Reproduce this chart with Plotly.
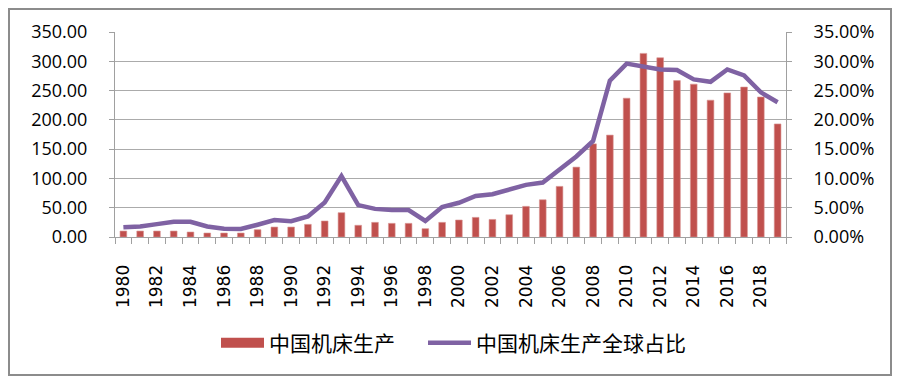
import plotly.graph_objects as go

years = list(range(1980, 2020))
production = [10.2, 10.2, 10.2, 10.2, 8.5, 6.8, 6.8, 6.8, 12.5, 17.0,
              17.0, 21.6, 27.3, 41.5, 20.0, 25.0, 23.3, 23.3, 14.2, 25.0,
              29.0, 33.5, 30.0, 38.0, 52.3, 63.6, 86.4, 119.3, 159.0, 174.0,
              237.0, 313.5, 306.0, 267.0, 261.0, 233.6, 246.0, 256.0, 239.0, 193.0]
share = [0.0165, 0.018, 0.022, 0.026, 0.026, 0.018, 0.014, 0.0136, 0.021, 0.029,
         0.027, 0.035, 0.059, 0.104, 0.0545, 0.048, 0.046, 0.046, 0.0275, 0.051,
         0.0585, 0.070, 0.073, 0.081, 0.089, 0.093, 0.116, 0.1375, 0.164, 0.267,
         0.296, 0.291, 0.286, 0.285, 0.269, 0.265, 0.286, 0.276, 0.247, 0.230]
year_ticks = list(range(1980, 2019, 2))
bar_name = "中国机床生产"
line_name = "中国机床生产全球占比"

BAR_COLOR = "#C0504D"
LINE_COLOR = "#7F62A3"

# page body has an 8px margin, so the figure is 892x375 placed at (8, 8)
W, H = 892, 375
L, T, R, B = 107, 24, 114, 146
PW, PH = W - L - R, H - T - B


def px_x(x_page):
    return (x_page - 8 - L) / PW


def px_y(y_page):
    return (PH + T - (y_page - 8)) / PH


fig = go.Figure()
fig.add_trace(go.Bar(
    x=years, y=production, name=bar_name, width=0.4,
    marker=dict(color=BAR_COLOR, line=dict(color="#D99694", width=0.6)),
    yaxis="y", showlegend=False,
))
# legend key for the bars (wide rectangle, like the original)
fig.add_trace(go.Scatter(
    x=[None], y=[None], name=bar_name, mode="lines",
    line=dict(color=BAR_COLOR, width=10), yaxis="y", hoverinfo="skip",
    legend="legend",
))
fig.add_trace(go.Scatter(
    x=years, y=share, name=line_name, mode="lines",
    line=dict(color=LINE_COLOR, width=4.5),
    yaxis="y2", legend="legend2",
))

grid = "#ABABAB"
axis_col = "#A0A0A0"
tick_font = dict(family="Open Sans, Liberation Sans, sans-serif", size=18, color="#000000")
legend_font = dict(family="Noto Sans CJK SC, sans-serif", size=21, color="#000000")

fig.update_layout(
    width=W, height=H,
    margin=dict(l=L, r=R, t=T, b=B),
    paper_bgcolor="white", plot_bgcolor="white",
    showlegend=True,
    legend=dict(
        orientation="h", x=px_x(216), xanchor="left", y=px_y(343), yanchor="middle",
        font=legend_font, itemwidth=43, bgcolor="rgba(0,0,0,0)",
    ),
    legend2=dict(
        orientation="h", x=px_x(423), xanchor="left", y=px_y(343), yanchor="middle",
        font=legend_font, itemwidth=43, bgcolor="rgba(0,0,0,0)",
    ),
    xaxis=dict(
        range=[1979.5, 2019.5],
        tickmode="array", tickvals=year_ticks, ticktext=[str(y) for y in year_ticks],
        tickangle=-90, ticks="", ticklabelstandoff=20,
        tickfont=dict(family="DejaVu Sans, sans-serif", size=17, color="#000000"),
        showgrid=False, showline=True, linecolor=axis_col, linewidth=1,
        minor=dict(tick0=1979.5, dtick=1, ticks="outside", ticklen=6,
                   tickcolor=axis_col, tickwidth=1, showgrid=False),
        zeroline=False,
    ),
    yaxis=dict(
        range=[0, 350], dtick=50, tick0=0, tickformat=".2f",
        showgrid=True, gridcolor=grid, gridwidth=1,
        showline=True, linecolor=axis_col, linewidth=1,
        ticks="outside", ticklen=5, tickcolor=axis_col,
        tickfont=tick_font, ticklabelstandoff=18, zeroline=False,
    ),
    yaxis2=dict(
        range=[0, 0.35], dtick=0.05, tick0=0, tickformat=".2%",
        overlaying="y", side="right", showgrid=False,
        showline=True, linecolor=axis_col, linewidth=1,
        ticks="outside", ticklen=5, tickcolor=axis_col,
        tickfont=tick_font, ticklabelstandoff=18, zeroline=False,
    ),
    shapes=[dict(
        type="rect", xref="paper", yref="paper",
        x0=px_x(9), x1=px_x(891),
        y0=px_y(375), y1=px_y(9),
        line=dict(color="#8C8C8C", width=2), fillcolor="rgba(0,0,0,0)",
        layer="below",
    )],
)

fig.write_html("out.html")
